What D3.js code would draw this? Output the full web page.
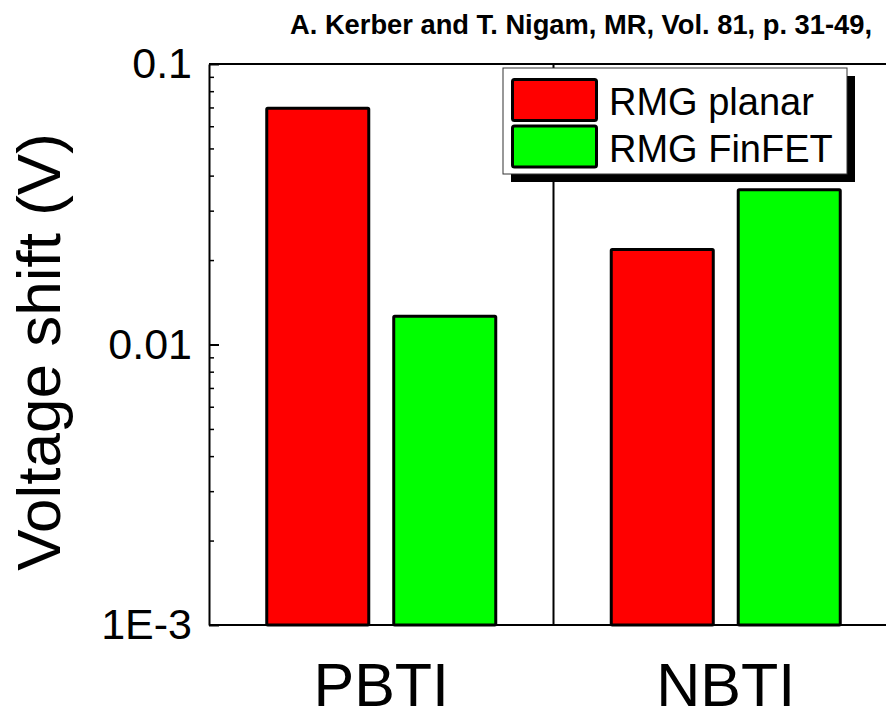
<!DOCTYPE html>
<html>
<head>
<meta charset="utf-8">
<script src="https://cdn.jsdelivr.net/npm/d3@7"></script>
<style>
  html, body { margin: 0; padding: 0; background: #fff; }
  svg { display: block; font-family: "Liberation Sans", Arial, Helvetica, sans-serif; }
</style>
</head>
<body>
<svg id="chart" width="886" height="710"></svg>
<script>
// ---- data ----
const categories = ["PBTI", "NBTI"];
const series = ["RMG planar", "RMG FinFET"];
const planarValues = [0.0696, 0.0218];
const finfetValues = [0.0126, 0.0356];
const seriesColors = ["#ff0000", "#00ff00"];
const majorTicks = [0.001, 0.01, 0.1];
const majorTickLabels = ["1E-3", "0.01", "0.1"];
const yTitle = "Voltage shift (V)";
const citation = "A. Kerber and T. Nigam, MR, Vol. 81, p. 31-49,";

const valuesBySeries = [planarValues, finfetValues];

// ---- layout ----
const svg = d3.select("#chart");
const plotLeft = 209, plotRight = 898, plotTop = 64, plotBottom = 625;

const y = d3.scaleLog().domain([0.001, 0.1]).range([plotBottom, plotTop]);
const x0 = d3.scaleBand().domain(categories).range([plotLeft, plotRight]).padding(0);
const x1 = d3.scaleBand().domain(series).range([-116, 116]).paddingInner(0.173).paddingOuter(0);

// citation
svg.append("text")
  .attr("x", 290).attr("y", 34)
  .attr("font-size", 27.3).attr("font-weight", "bold")
  .text(citation);

// bars
const barStroke = 3;
categories.forEach((cat, ci) => {
  const cx = x0(cat) + x0.bandwidth() / 2;
  series.forEach((s, si) => {
    const v = valuesBySeries[si][ci];
    svg.append("rect")
      .attr("x", cx + x1(s) + barStroke / 2)
      .attr("width", x1.bandwidth() - barStroke)
      .attr("y", y(v))
      .attr("height", y(0.001) - y(v))
      .attr("fill", seriesColors[si])
      .attr("stroke", "#000")
      .attr("stroke-width", barStroke)
      .attr("rx", 1);
  });
});

// divider between groups
svg.append("line")
  .attr("x1", x0("NBTI")).attr("x2", x0("NBTI"))
  .attr("y1", plotTop).attr("y2", plotBottom)
  .attr("stroke", "#000").attr("stroke-width", 2);

// frame lines (top / bottom)
svg.append("line").attr("x1", plotLeft).attr("x2", plotRight).attr("y1", plotTop).attr("y2", plotTop)
  .attr("stroke", "#000").attr("stroke-width", 2);
svg.append("line").attr("x1", plotLeft).attr("x2", plotRight).attr("y1", plotBottom).attr("y2", plotBottom)
  .attr("stroke", "#000").attr("stroke-width", 2);

// y axis major
const yAxis = d3.axisLeft(y)
  .tickValues(majorTicks)
  .tickFormat((d, i) => majorTickLabels[i])
  .tickSizeInner(-10).tickSizeOuter(0).tickPadding(17);
const gy = svg.append("g").attr("transform", `translate(${plotLeft},0)`).call(yAxis);
gy.select(".domain").attr("stroke-width", 2);
gy.selectAll(".tick line").attr("stroke-width", 2);
gy.selectAll(".tick text").attr("font-size", 43).attr("fill", "#000")
  .attr("font-family", "\"Liberation Sans\", Arial, sans-serif");

// y axis minor
const minorTicks = [];
[0.001, 0.01].forEach(base => { for (let k = 2; k <= 9; k++) minorTicks.push(base * k); });
const yMinor = d3.axisLeft(y).tickValues(minorTicks).tickFormat("")
  .tickSizeInner(-5).tickSizeOuter(0);
const gm = svg.append("g").attr("transform", `translate(${plotLeft},0)`).call(yMinor);
gm.select(".domain").remove();
gm.selectAll(".tick line").attr("stroke-width", 1.5);

// y title
svg.append("text")
  .attr("transform", `translate(60, 352) rotate(-90)`)
  .attr("text-anchor", "middle")
  .attr("font-size", 62)
  .text(yTitle);

// x category labels
const xAxis = d3.axisBottom(x0).tickSize(0).tickPadding(0);
const gx = svg.append("g").attr("transform", `translate(0,${plotBottom})`).call(xAxis);
gx.select(".domain").remove();
gx.selectAll(".tick text")
  .attr("font-size", 61).attr("fill", "#000")
  .attr("font-family", "\"Liberation Sans\", Arial, sans-serif")
  .attr("dy", null).attr("y", 81);

// legend
const lg = svg.append("g");
const lx = 503, ly = 68, lw = 344, lh = 106, sh = 8;
lg.append("rect").attr("x", lx + sh).attr("y", ly + sh).attr("width", lw).attr("height", lh).attr("fill", "#000");
lg.append("rect").attr("x", lx).attr("y", ly).attr("width", lw).attr("height", lh)
  .attr("fill", "#fff").attr("stroke", "#333").attr("stroke-width", 1);
series.forEach((s, i) => {
  const sy = ly + 11.5 + i * 46.5;
  lg.append("rect").attr("x", lx + 9.5).attr("y", sy).attr("width", 84).attr("height", 41)
    .attr("fill", seriesColors[i]).attr("stroke", "#000").attr("stroke-width", 3).attr("rx", 2);
  lg.append("text").attr("x", lx + 106).attr("y", ly + 46.5 + i * 47)
    .attr("font-size", 38).text(s);
});
</script>
</body>
</html>
